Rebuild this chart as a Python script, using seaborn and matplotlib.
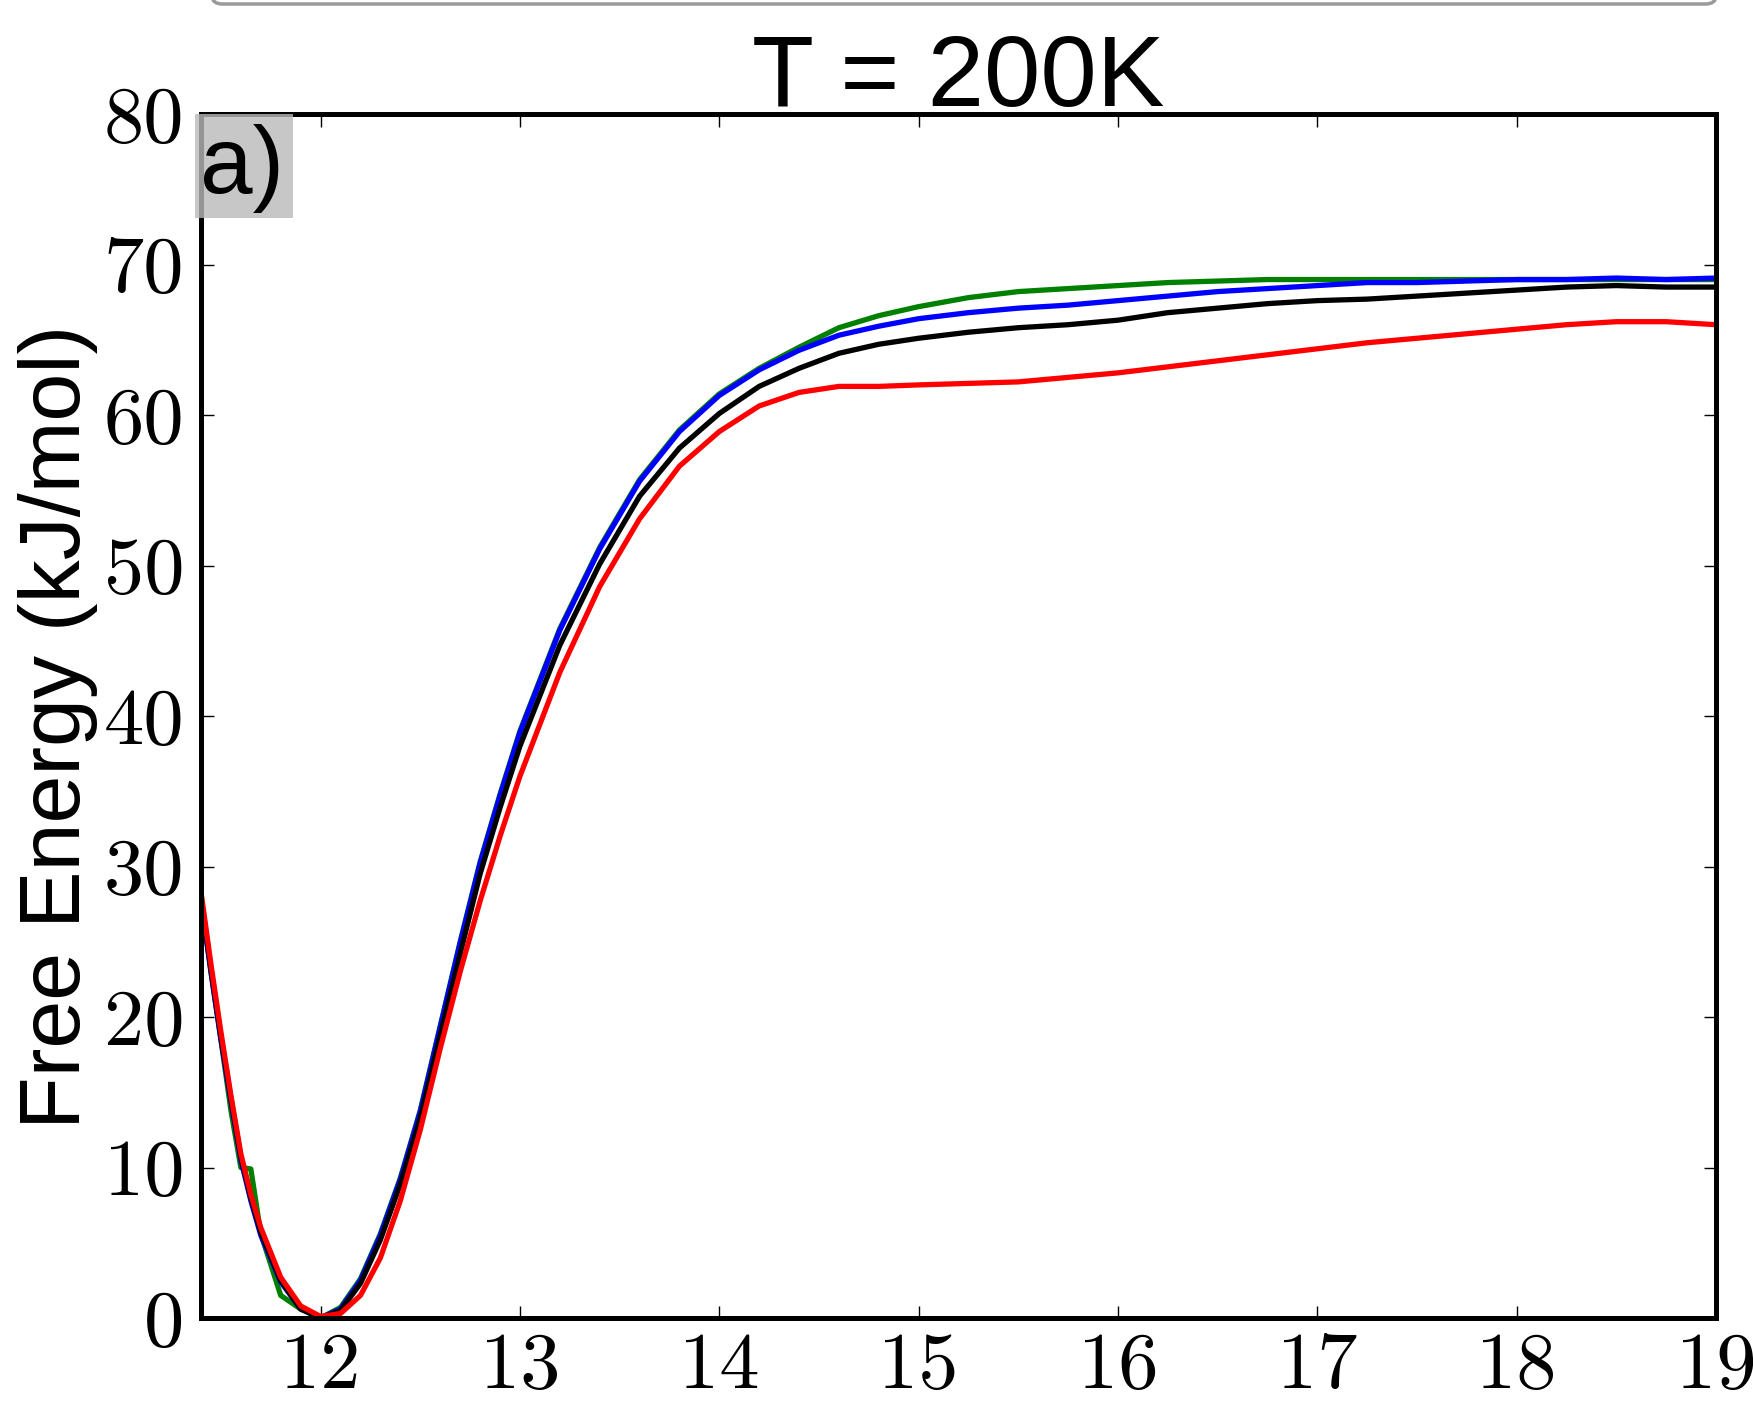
import numpy as np
import pandas as pd
import seaborn as sns
import matplotlib.pyplot as plt
from matplotlib.patches import Rectangle, FancyBboxPatch

# distance grid shared by all four free-energy profiles
distance = [11.4, 11.45, 11.5, 11.55, 11.6, 11.65, 11.7, 11.8, 11.9, 12.0,
            12.1, 12.2, 12.3, 12.4, 12.5, 12.6, 12.7, 12.8, 12.9, 13.0,
            13.2, 13.4, 13.6, 13.8, 14.0, 14.2, 14.4, 14.6, 14.8, 15.0,
            15.25, 15.5, 15.75, 16.0, 16.25, 16.5, 16.75, 17.0, 17.25, 17.5,
            17.75, 18.0, 18.25, 18.5, 18.75, 19.0]

fe_green = [27.8, 23.0, 18.5, 13.8, 10.0, 9.9, 5.6, 1.5, 0.6, 0.0,
            0.7, 2.6, 5.6, 9.3, 13.8, 19.4, 25.0, 30.3, 34.8, 39.0,
            45.8, 51.2, 55.7, 59.0, 61.4, 63.1, 64.5, 65.8, 66.6, 67.2,
            67.8, 68.2, 68.4, 68.6, 68.8, 68.9, 69.0, 69.0, 69.0, 69.0,
            69.0, 69.0, 69.0, 69.0, 69.0, 69.0]

fe_blue = [27.8, 23.0, 18.5, 14.4, 10.5, 7.8, 5.5, 2.4, 0.6, 0.0,
           0.6, 2.5, 5.5, 9.2, 13.7, 19.3, 24.9, 30.2, 34.7, 38.9,
           45.7, 51.1, 55.6, 58.9, 61.3, 63.0, 64.3, 65.3, 65.9, 66.4,
           66.8, 67.1, 67.3, 67.6, 67.9, 68.2, 68.4, 68.6, 68.8, 68.8,
           68.9, 69.0, 69.0, 69.1, 69.0, 69.1]

fe_black = [28.0, 23.2, 18.7, 14.6, 10.7, 8.0, 5.7, 2.5, 0.6, 0.0,
            0.5, 2.3, 5.2, 8.9, 13.3, 18.8, 24.2, 29.5, 33.9, 38.0,
            44.7, 50.1, 54.6, 57.8, 60.1, 61.9, 63.1, 64.1, 64.7, 65.1,
            65.5, 65.8, 66.0, 66.3, 66.8, 67.1, 67.4, 67.6, 67.7, 67.9,
            68.1, 68.3, 68.5, 68.6, 68.5, 68.5]

fe_red = [28.3, 23.5, 19.0, 14.8, 10.9, 8.2, 6.0, 2.7, 0.8, 0.1,
          0.3, 1.5, 4.0, 7.8, 12.5, 17.9, 23.0, 27.7, 32.0, 36.0,
          42.9, 48.6, 53.1, 56.6, 58.9, 60.6, 61.5, 61.9, 61.9, 62.0,
          62.1, 62.2, 62.5, 62.8, 63.2, 63.6, 64.0, 64.4, 64.8, 65.1,
          65.4, 65.7, 66.0, 66.2, 66.2, 66.0]

series = {"green": fe_green, "blue": fe_blue, "black": fe_black, "red": fe_red}
colors = {"green": "#008000", "blue": "#0000ff", "black": "#000000", "red": "#ff0000"}

x_ticks = [12, 13, 14, 15, 16, 17, 18, 19]
y_ticks = [0, 10, 20, 30, 40, 50, 60, 70, 80]

df = pd.concat([pd.DataFrame({"x": distance, "fe": v, "run": k}) for k, v in series.items()])

sns.set_style("ticks")
plt.rcParams.update({"text.color": "black", "axes.labelcolor": "black",
                     "xtick.color": "black", "ytick.color": "black",
                     "axes.edgecolor": "black"})
W, H = 1753, 1402
fig = plt.figure(figsize=(W / 100, H / 100), dpi=100)
ax = fig.add_axes([201 / W, 1 - 1318 / H, (1716 - 201) / W, (1318 - 114) / H])

sns.lineplot(data=df, x="x", y="fe", hue="run", hue_order=list(series),
             palette=colors, linewidth=3.8, legend=False, ax=ax, sort=False)

ax.set_xlim(11.4, 19)
ax.set_ylim(0, 80)
ax.set_xticks(x_ticks, labels=[str(t) for t in x_ticks], fontfamily="cmr10", fontsize=58)
ax.set_yticks(y_ticks, labels=[str(t) for t in y_ticks], fontfamily="cmr10", fontsize=58)
ax.tick_params(direction="in", length=9, width=1, top=True, right=True,
               colors="black", labelcolor="black")
ax.tick_params(axis="x", pad=10)
ax.tick_params(axis="y", pad=12)
for s in ax.spines.values():
    s.set_linewidth(3.6)
    s.set_color("black")
    s.set_visible(True)

ax.set_xlabel("")
ax.set_ylabel("Free Energy (kJ/mol)", fontsize=62, family="Liberation Sans",
              color="black")
ax.yaxis.set_label_coords(-0.068, 0.491)
ax.set_title("T = 200K", fontsize=73, family="Liberation Sans", pad=6,
             color="black")

# panel tag
fig.add_artist(Rectangle((195 / W, 1 - 218 / H), 98 / W, 104 / H,
                         transform=fig.transFigure, facecolor="#bababa",
                         alpha=0.8, edgecolor="none", zorder=5))
fig.text(200 / W, 1 - 193 / H, "a)", ha="left", va="baseline", color="black",
         fontsize=68, family="Liberation Sans", zorder=6)

# bottom of a legend box cut off by the figure edge
fig.add_artist(FancyBboxPatch((212 / W, 1 - 4 / H), (1716 - 212) / W, 0.05,
                              boxstyle="round,pad=0,rounding_size=0.006",
                              transform=fig.transFigure, facecolor="white",
                              edgecolor="#9a9a9a", linewidth=2.5, clip_on=False))

fig.savefig("out.png", dpi=100)
